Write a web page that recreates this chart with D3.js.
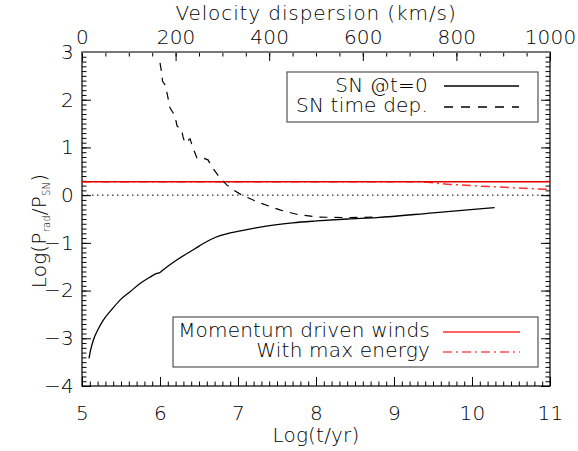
<!DOCTYPE html>
<html>
<head>
<meta charset="utf-8">
<script src="https://cdn.jsdelivr.net/npm/d3@7"></script>
<style>
  body { margin: 0; background: #fff; }
  text { font-family: "DejaVu Sans", sans-serif; font-weight: 200; fill: #000; letter-spacing: 0.2px; }
</style>
</head>
<body>
<div class="chart_viz"></div>
<script>
// SN @t=0 curve (log t, log Prad/PSN)
var snT0_x = [5.09, 5.11, 5.145, 5.21, 5.273, 5.38, 5.487, 5.62, 5.744, 5.87, 5.958, 6.0, 6.03, 6.214, 6.40, 6.47, 6.55, 6.65, 6.77, 6.9, 7.03, 7.25, 7.45, 7.7, 8.01, 8.4, 8.78, 9.5, 10.29];
var snT0_y = [-3.42, -3.25, -3.04, -2.80, -2.62, -2.40, -2.20, -2.02, -1.85, -1.72, -1.64, -1.62, -1.58, -1.36, -1.17, -1.10, -1.02, -0.93, -0.85, -0.79, -0.75, -0.68, -0.63, -0.58, -0.54, -0.50, -0.47, -0.37, -0.26];

// SN time dependent curve
var snTd_x = [6.0, 6.022, 6.032, 6.064, 6.09, 6.128, 6.192, 6.218, 6.278, 6.295, 6.321, 6.385, 6.423, 6.474, 6.551, 6.615, 6.667, 6.769, 6.859, 6.95, 7.051, 7.244, 7.538, 7.75, 8.013, 8.4, 8.782];
var snTd_y = [2.77, 2.56, 2.39, 2.31, 2.14, 1.83, 1.66, 1.45, 1.37, 1.22, 1.09, 1.18, 0.99, 0.78, 0.78, 0.74, 0.59, 0.36, 0.21, 0.10, 0.0, -0.14, -0.31, -0.40, -0.46, -0.47, -0.46];

// momentum driven winds (flat) and with max energy
var wind_x = [5, 11];
var wind_y = [0.28, 0.28];
var maxE_x = [5, 9.3, 9.68, 10.1, 11];
var maxE_y = [0.28, 0.28, 0.23, 0.19, 0.12];

var xTicks = [5, 6, 7, 8, 9, 10, 11];
var yTicks = [-4, -3, -2, -1, 0, 1, 2, 3];
var yTickLabels = ["\u22124", "\u22123", "\u22122", "\u22121", "0", "1", "2", "3"];
var vTicks = [0, 200, 400, 600, 800, 1000];

var W = 578, H = 451;
var pL = 82, pR = 550, pT = 52, pB = 386;

var svg = d3.select(".chart_viz").append("svg")
  .attr("width", W)
  .attr("height", H);

var x = d3.scaleLinear().domain([5, 11]).range([pL, pR]);
var y = d3.scaleLinear().domain([-4, 3]).range([pB, pT]);
var v = d3.scaleLinear().domain([0, 1000]).range([pL, pR]);

var xMinor = d3.range(5, 11.001, 0.1);
var yMinor = d3.range(-4, 3.001, 0.1);
var vMinor = d3.range(0, 1000.1, 50);

function clean(g) {
  g.select(".domain").remove();
  g.selectAll("line").attr("stroke", "#000");
  g.selectAll("text").attr("font-size", 20).attr("font-family", "DejaVu Sans, sans-serif");
}

// bottom axis
svg.append("g").attr("transform", "translate(0," + pB + ")")
  .call(d3.axisBottom(x).tickValues(xMinor).tickSize(-4.5).tickFormat(""))
  .call(clean);
svg.append("g").attr("transform", "translate(0," + pB + ")")
  .call(d3.axisBottom(x).tickValues(xTicks).tickSize(-9).tickPadding(20).tickFormat(d3.format("d")))
  .call(clean);

// left / right axes
svg.append("g").attr("transform", "translate(" + pL + ",0)")
  .call(d3.axisLeft(y).tickValues(yMinor).tickSize(-4.5).tickFormat(""))
  .call(clean);
svg.append("g").attr("transform", "translate(" + pL + ",0)")
  .call(d3.axisLeft(y).tickValues(yTicks).tickSize(-9).tickPadding(8).tickFormat(function(d, i) { return yTickLabels[i]; }))
  .call(clean);
svg.append("g").attr("transform", "translate(" + pR + ",0)")
  .call(d3.axisRight(y).tickValues(yMinor).tickSize(-4.5).tickFormat(""))
  .call(clean);
svg.append("g").attr("transform", "translate(" + pR + ",0)")
  .call(d3.axisRight(y).tickValues(yTicks).tickSize(-9).tickFormat(""))
  .call(clean);

// top axis (velocity dispersion)
svg.append("g").attr("transform", "translate(0," + pT + ")")
  .call(d3.axisTop(v).tickValues(vMinor).tickSize(-4.5).tickFormat(""))
  .call(clean);
svg.append("g").attr("transform", "translate(0," + pT + ")")
  .call(d3.axisTop(v).tickValues(vTicks).tickSize(-9).tickPadding(8).tickFormat(d3.format("d")))
  .call(clean);

// frame
svg.append("rect")
  .attr("x", pL).attr("y", pT)
  .attr("width", pR - pL).attr("height", pB - pT)
  .attr("fill", "none").attr("stroke", "#000").attr("stroke-width", 1.2);
svg.append("line")
  .attr("x1", pL).attr("x2", pR).attr("y1", pT).attr("y2", pT)
  .attr("stroke", "#777").attr("stroke-width", 2);

// zero reference line
svg.append("line")
  .attr("x1", x(5)).attr("x2", x(11))
  .attr("y1", y(0)).attr("y2", y(0))
  .attr("stroke", "#000").attr("stroke-dasharray", "1.5,3.5");

var line = d3.line().x(function(d) { return x(d[0]); }).y(function(d) { return y(d[1]); });

svg.append("path")
  .datum(d3.zip(maxE_x, maxE_y))
  .attr("d", line.curve(d3.curveMonotoneX)).attr("fill", "none")
  .attr("stroke", "#ff3030").attr("stroke-width", 1.5)
  .attr("stroke-dasharray", "9,4,2,4");
svg.append("path")
  .datum(d3.zip(wind_x, wind_y))
  .attr("d", line).attr("fill", "none")
  .attr("stroke", "#e00000").attr("stroke-width", 1.4);
svg.append("path")
  .datum(d3.zip(snT0_x, snT0_y))
  .attr("d", line.curve(d3.curveMonotoneX)).attr("fill", "none")
  .attr("stroke", "#000").attr("stroke-width", 1.3);
svg.append("path")
  .datum(d3.zip(snTd_x, snTd_y))
  .attr("d", line.curve(d3.curveLinear)).attr("fill", "none")
  .attr("stroke", "#000").attr("stroke-width", 1.2)
  .attr("stroke-dasharray", "8,7");

// legends
function legend(box, items) {
  var g = svg.append("g");
  g.append("rect")
    .attr("x", box[0]).attr("y", box[1])
    .attr("width", box[2] - box[0]).attr("height", box[3] - box[1])
    .attr("fill", "#fff").attr("stroke", "#555").attr("stroke-width", 1.2);
  items.forEach(function(it) {
    g.append("text")
      .attr("x", it.tx).attr("y", it.ty)
      .attr("text-anchor", "end")
      .attr("font-size", 20)
      .text(it.label);
    g.append("line")
      .attr("x1", it.lx1).attr("x2", it.lx2)
      .attr("y1", it.ly).attr("y2", it.ly)
      .attr("stroke", it.color).attr("stroke-width", 1.4)
      .attr("stroke-dasharray", it.dash);
  });
}

legend([287, 72, 538, 122], [
  {label: "SN @t=0", tx: 428, ty: 92, lx1: 444, lx2: 519, ly: 86, color: "#000", dash: null},
  {label: "SN time dep.", tx: 428, ty: 112, lx1: 444, lx2: 519, ly: 107, color: "#000", dash: "9,8"}
]);
legend([173, 317, 538, 367], [
  {label: "Momentum driven winds", tx: 430, ty: 337, lx1: 443, lx2: 520, ly: 332, color: "#ff3030", dash: null},
  {label: "With max energy", tx: 430, ty: 357, lx1: 443, lx2: 520, ly: 352, color: "#ff5050", dash: "9,4,2,4"}
]);

// axis titles
svg.append("text")
  .attr("x", (pL + pR) / 2).attr("y", 442)
  .attr("text-anchor", "middle").attr("font-size", 20)
  .text("Log(t/yr)");
svg.append("text")
  .attr("x", (pL + pR) / 2).attr("y", 20)
  .attr("text-anchor", "middle").attr("font-size", 20)
  .style("letter-spacing", "0.9px")
  .text("Velocity dispersion (km/s)");

var yt = svg.append("text")
  .attr("transform", "translate(46,231) rotate(-90)")
  .attr("text-anchor", "middle").attr("font-size", 20);
yt.append("tspan").text("Log(P");
yt.append("tspan").attr("font-size", 10).attr("dy", 4).text("rad");
yt.append("tspan").attr("dy", -4).text("/P");
yt.append("tspan").attr("font-size", 10).attr("dy", 4).text("SN");
yt.append("tspan").attr("dy", -4).text(")");
</script>
</body>
</html>
